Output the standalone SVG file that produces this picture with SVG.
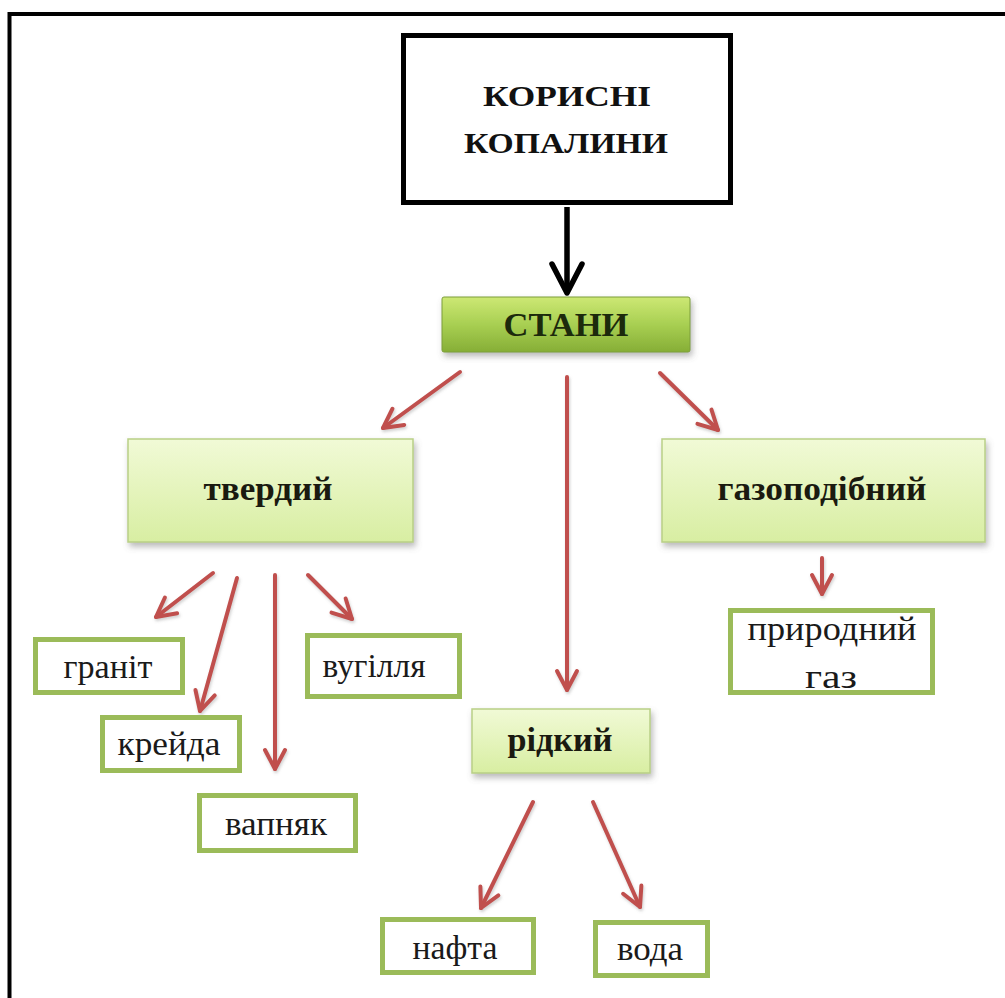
<svg xmlns="http://www.w3.org/2000/svg" width="1005" height="998" viewBox="0 0 1005 998">
  <defs>
    <style>
      text { font-family: "Liberation Serif", "Times New Roman", "DejaVu Serif", serif; text-anchor: middle; }
      .title { font-size: 29px; font-weight: bold; fill: #111; }
      .state { font-size: 34px; font-weight: bold; fill: #1a1a10; }
      .item { font-size: 34px; fill: #1a1a1a; }
      .stani { font-size: 33px; font-weight: bold; fill: #1c2a0c; }
      .pale { fill: url(#paleGreen); stroke: #b9cf86; stroke-width: 1.5; filter: url(#soft); }
      .leaf { fill: #ffffff; stroke: #9bbb59; stroke-width: 5; }
      .red { stroke: #c0504d; stroke-width: 4; fill: none; stroke-linecap: round; marker-end: url(#redHead); filter: url(#arrowShadow); }
    </style>
    <linearGradient id="paleGreen" x1="0" y1="0" x2="0" y2="1">
      <stop offset="0" stop-color="#f1fad6"/>
      <stop offset="1" stop-color="#d8eea2"/>
    </linearGradient>
    <linearGradient id="stateGreen" x1="0" y1="0" x2="0" y2="1">
      <stop offset="0" stop-color="#cde874"/>
      <stop offset="0.5" stop-color="#a8cf52"/>
      <stop offset="1" stop-color="#86ae36"/>
    </linearGradient>
    <filter id="soft" x="-10%" y="-10%" width="125%" height="130%">
      <feDropShadow dx="2" dy="4" stdDeviation="3" flood-color="#666" flood-opacity="0.45"/>
    </filter>
    <!-- user-space region so that straight vertical lines are not clipped away -->
    <filter id="arrowShadow" filterUnits="userSpaceOnUse" x="0" y="0" width="1005" height="998">
      <feDropShadow dx="1" dy="2" stdDeviation="1.5" flood-color="#777" flood-opacity="0.35"/>
    </filter>
    <marker id="redHead" markerUnits="userSpaceOnUse" viewBox="-26 -16 30 32" refX="0" refY="0" markerWidth="30" markerHeight="32" orient="auto" overflow="visible">
      <path d="M-19,-10 L0,0 L-19,10" fill="none" stroke="#c0504d" stroke-width="4" stroke-linecap="round" stroke-linejoin="round"/>
    </marker>
    <marker id="blackHead" markerUnits="userSpaceOnUse" viewBox="-34 -20 38 40" refX="0" refY="0" markerWidth="38" markerHeight="40" orient="auto" overflow="visible">
      <path d="M-29,-15 L0,0 L-29,15" fill="none" stroke="#000" stroke-width="5.5" stroke-linecap="round" stroke-linejoin="round"/>
    </marker>
  </defs>

  <rect width="1005" height="998" fill="#ffffff"/>

  <!-- outer frame, open to the right and bottom -->
  <path d="M9.5,998 V14 H1005" fill="none" stroke="#000" stroke-width="4"/>

  <!-- connectors -->
  <g id="connectors">
    <line x1="567" y1="207" x2="567" y2="293" stroke="#000" stroke-width="5.5" marker-end="url(#blackHead)"/>
    <line class="red" x1="460" y1="372" x2="383" y2="428"/>
    <line class="red" x1="567" y1="377" x2="567" y2="690"/>
    <line class="red" x1="660" y1="373" x2="718" y2="430"/>
    <line class="red" x1="822" y1="558" x2="822" y2="594"/>
    <line class="red" x1="213" y1="573" x2="156" y2="617"/>
    <line class="red" x1="237" y1="578" x2="200" y2="711"/>
    <line class="red" x1="275" y1="575" x2="275" y2="769"/>
    <line class="red" x1="308" y1="575" x2="352" y2="619"/>
    <line class="red" x1="533" y1="802" x2="481" y2="908"/>
    <line class="red" x1="593" y1="802" x2="640" y2="907"/>
  </g>

  <!-- root -->
  <g id="node-root">
    <rect x="403.5" y="35.5" width="327" height="167" fill="#ffffff" stroke="#000" stroke-width="5"/>
    <text class="title" x="567" y="106" textLength="168" lengthAdjust="spacingAndGlyphs">КОРИСНІ</text>
    <text class="title" x="566" y="153" textLength="204" lengthAdjust="spacingAndGlyphs">КОПАЛИНИ</text>
  </g>

  <g id="node-stany">
    <rect x="442" y="297" width="248" height="55" rx="2" fill="url(#stateGreen)" stroke="#7d9e3a" stroke-width="1" filter="url(#soft)"/>
    <text class="stani" x="566" y="336" textLength="125" lengthAdjust="spacingAndGlyphs">СТАНИ</text>
  </g>

  <g id="node-tverdyi">
    <rect class="pale" x="128" y="439" width="285" height="103"/>
    <text class="state" x="268" y="500" textLength="129" lengthAdjust="spacingAndGlyphs">твердий</text>
  </g>

  <g id="node-gazopodibnyi">
    <rect class="pale" x="662" y="439" width="323" height="103"/>
    <text class="state" x="822" y="500" textLength="209" lengthAdjust="spacingAndGlyphs">газоподібний</text>
  </g>

  <g id="node-ridkyi">
    <rect class="pale" x="472" y="709" width="178" height="64"/>
    <text class="state" x="560" y="751" textLength="105" lengthAdjust="spacingAndGlyphs">рідкий</text>
  </g>

  <g id="node-pryrodnyi-gaz">
    <rect class="leaf" x="730.5" y="610.5" width="202" height="82"/>
    <text class="item" x="832" y="640" textLength="169" lengthAdjust="spacingAndGlyphs">природний</text>
    <text class="item" x="831" y="688" textLength="52" lengthAdjust="spacingAndGlyphs">газ</text>
  </g>

  <g id="node-granit">
    <rect class="leaf" x="35.5" y="639.5" width="147" height="53"/>
    <text class="item" x="108" y="678" textLength="89" lengthAdjust="spacingAndGlyphs">граніт</text>
  </g>

  <g id="node-kreida">
    <rect class="leaf" x="102.5" y="717.5" width="137" height="53"/>
    <text class="item" x="169" y="755" textLength="103" lengthAdjust="spacingAndGlyphs">крейда</text>
  </g>

  <g id="node-vapniak">
    <rect class="leaf" x="199.5" y="795.5" width="156" height="55"/>
    <text class="item" x="276" y="835" textLength="102" lengthAdjust="spacingAndGlyphs">вапняк</text>
  </g>

  <g id="node-vuhillia">
    <rect class="leaf" x="307.5" y="635.5" width="152" height="61"/>
    <text class="item" x="374" y="677" textLength="103" lengthAdjust="spacingAndGlyphs">вугілля</text>
  </g>

  <g id="node-nafta">
    <rect class="leaf" x="382.5" y="919.5" width="151" height="53"/>
    <text class="item" x="455" y="959" textLength="85" lengthAdjust="spacingAndGlyphs">нафта</text>
  </g>

  <g id="node-voda">
    <rect class="leaf" x="595.5" y="922.5" width="112" height="53"/>
    <text class="item" x="650" y="960" textLength="66" lengthAdjust="spacingAndGlyphs">вода</text>
  </g>
</svg>
